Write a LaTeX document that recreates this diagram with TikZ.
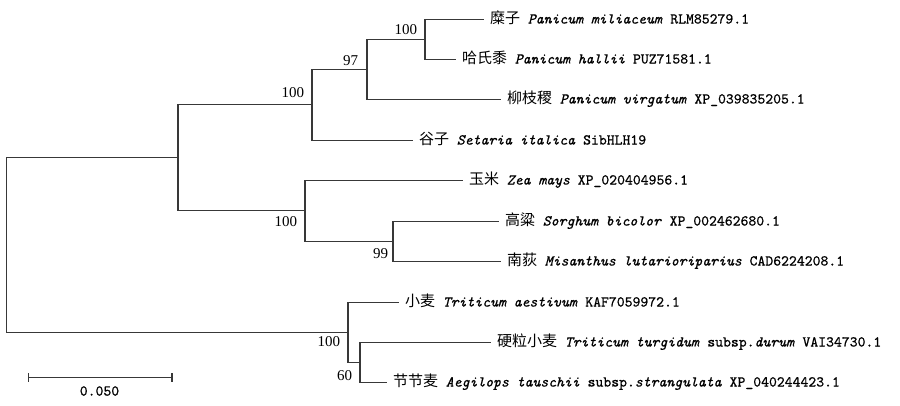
\documentclass[tikz,border=0pt]{standalone}
\usepackage{fontspec}
\setmainfont{Liberation Serif}
\newfontfamily\cjk{Noto Sans CJK SC}
\newfontfamily\monof{lmmono10-regular.otf}[ItalicFont=lmmono10-italic.otf, FakeBold=0.8]
\usetikzlibrary{calc}
\tikzset{
  br/.style={draw=black!78, line width=1.3pt, line cap=rect},
  leaf/.style={anchor=west, inner xsep=7pt, inner ysep=0pt, outer sep=0pt,
    font=\monof\fontsize{15}{18}\selectfont, text height=11pt, text depth=3pt},
  bs/.style={inner sep=0pt, outer sep=0pt, font=\fontsize{15}{18}\selectfont, anchor=east},
}
\begin{document}
\begin{tikzpicture}[x=1pt,y=-1pt]
\useasboundingbox (0,0) rectangle (900,405);
% internal nodes
\coordinate (C) at (425,39.5);
\coordinate (B) at (367,69.5);
\coordinate (A) at (312,104.5);
\coordinate (E) at (393,241.5);
\coordinate (D) at (305,210.5);
\coordinate (U) at (178,157.5);
\coordinate (G) at (360,362.5);
\coordinate (F) at (348,332.5);
\coordinate (R) at (6.5,245);
% leaves
\node[leaf] (l1) at (483,19.5) {{\cjk 糜子} \textit{Panicum miliaceum} RLM85279.1};
\node[leaf] (l2) at (455,59.5) {{\cjk 哈氏黍} \textit{Panicum hallii} PUZ71581.1};
\node[leaf] (l3) at (500,99.5) {{\cjk 柳枝稷} \textit{Panicum virgatum} XP\_039835205.1};
\node[leaf] (l4) at (412,140.5) {{\cjk 谷子} \textit{Setaria italica} SibHLH19};
\node[leaf] (l5) at (462,180.5) {{\cjk 玉米} \textit{Zea mays} XP\_020404956.1};
\node[leaf] (l6) at (498,221.5) {{\cjk 高粱} \textit{Sorghum bicolor} XP\_002462680.1};
\node[leaf] (l7) at (500,261.5) {{\cjk 南荻} \textit{Misanthus lutarioriparius} CAD6224208.1};
\node[leaf] (l8) at (398,302.5) {{\cjk 小麦} \textit{Triticum aestivum} KAF7059972.1};
\node[leaf] (l9) at (490,342.5) {{\cjk 硬粒小麦} \textit{Triticum turgidum} subsp.\textit{durum} VAI34730.1};
\node[leaf] (l10) at (386,382.5) {{\cjk 节节麦} \textit{Aegilops tauschii} subsp.\textit{strangulata} XP\_040244423.1};
% branches
\draw[br] (R) |- (U);
\draw[br] (R) |- (F);
\draw[br] (U) |- (A);
\draw[br] (U) |- (D);
\draw[br] (A) |- (B);
\draw[br] (A) |- (l4.west);
\draw[br] (B) |- (C);
\draw[br] (B) |- (l3.west);
\draw[br] (C) |- (l1.west);
\draw[br] (C) |- (l2.west);
\draw[br] (D) |- (l5.west);
\draw[br] (D) |- (E);
\draw[br] (E) |- (l6.west);
\draw[br] (E) |- (l7.west);
\draw[br] (F) |- (l8.west);
\draw[br] (F) |- (G);
\draw[br] (G) |- (l9.west);
\draw[br] (G) |- (l10.west);
% bootstrap values
\node[bs] (bC) at ($(C)+(-8,-10)$) {100};
\node[bs] (bB) at ($(B)+(-9,-8.5)$) {97};
\node[bs] (bA) at ($(A)+(-8,-12)$) {100};
\node[bs] (bD) at ($(D)+(-8,11)$) {100};
\node[bs] (bE) at ($(E)+(-5,12)$) {99};
\node[bs] (bF) at ($(F)+(-8,9)$) {100};
\node[bs] (bG) at ($(G)+(-8,12.6)$) {60};
% scale bar
\coordinate (s1) at (28.5,377.5);
\coordinate (s2) at (172,377.5);
\draw[br, line cap=butt] (s1) -- (s2);
\draw[br, line cap=butt] ($(s1)+(0,-4.5)$) -- ($(s1)+(0,4.5)$);
\draw[br, line cap=butt] ($(s2)+(0,-4.5)$) -- ($(s2)+(0,4.5)$);
\node[inner sep=0pt, font=\monof\fontsize{15}{18}\selectfont] (sl) at (99.5,391) {0.050};
\end{tikzpicture}
\end{document}
